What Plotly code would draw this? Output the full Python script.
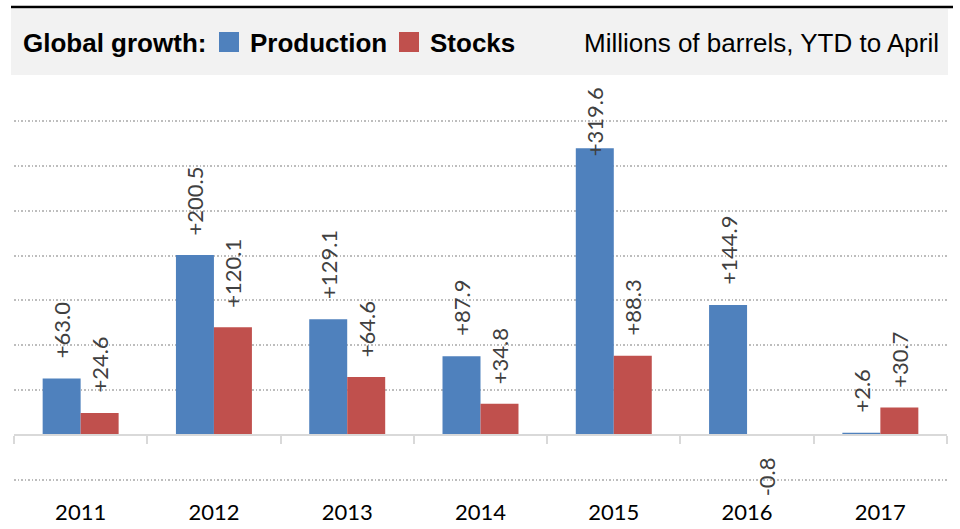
import plotly.graph_objects as go

years = ["2011", "2012", "2013", "2014", "2015", "2016", "2017"]
production = [63.0, 200.5, 129.1, 87.9, 319.6, 144.9, 2.6]
stocks = [24.6, 120.1, 64.6, 34.8, 88.3, -0.8, 30.7]
series_names = ["Production", "Stocks"]
title_text = "Global growth:"
unit_text = "Millions of barrels, YTD to April"

BLUE = "#4f81bd"
RED = "#c0504d"
W, H = 960, 529
L, R, T, B = 14, 13, 76, 32
YMIN, YMAX = -69, 400
BARGAP = 0.43
pw, ph = W - L - R, H - T - B
px_per_unit = ph / (YMAX - YMIN)
bar_w = (1 - BARGAP) / 2   # width of one bar in category units


def px_x(p):
    return (p - L) / pw


def px_y(p):
    return (H - B - p) / ph


def fmt(v):
    return f"{v:+.1f}"


label_font = dict(family="Lato, Carlito, sans-serif", size=22, color="#404040")
LABEL_GAP = 18          # px between bar end and its label
LABEL_LEN = 72          # approx px length of a rotated label
LABEL_TOP = 390         # labels are kept below this level (data units)

fig = go.Figure()
annotations = []
for si, (name, vals, col) in enumerate([(series_names[0], production, BLUE),
                                        (series_names[1], stocks, RED)]):
    fig.add_trace(go.Bar(
        x=years, y=vals, name=name, marker=dict(color=col, line=dict(width=0)),
        showlegend=False, cliponaxis=False,
    ))
    off = (si - 0.5) * bar_w
    for i, v in enumerate(vals):
        a = dict(x=i + off, xref="x", yref="y", text=fmt(v), textangle=-90,
                 showarrow=False, font=label_font, xanchor="center")
        if v < 0:
            a.update(y=v, yanchor="top", yshift=-LABEL_GAP - 2)
        elif v * px_per_unit + LABEL_GAP + LABEL_LEN > LABEL_TOP * px_per_unit:
            a.update(y=LABEL_TOP, yanchor="top")
        else:
            a.update(y=v, yanchor="bottom", yshift=LABEL_GAP)
        annotations.append(a)

# helper trace for the zero-level category axis (boundary ticks)
fig.add_trace(go.Scatter(x=years, y=[None] * len(years), xaxis="x2", yaxis="y",
                         mode="markers", showlegend=False, hoverinfo="skip"))

zero_frac = (0 - YMIN) / (YMAX - YMIN)

fig.update_layout(
    width=W, height=H,
    margin=dict(l=L, r=R, t=T, b=B, autoexpand=False),
    paper_bgcolor="white", plot_bgcolor="white",
    barmode="group", bargap=BARGAP, bargroupgap=0,
    xaxis=dict(type="category", range=[-0.5, 6.5], showline=False, ticks="",
               showgrid=False, zeroline=False, automargin=False,
               tickfont=dict(family="Lato, Carlito, sans-serif", size=22, color="black"),
               ticklabelstandoff=0),
    xaxis2=dict(type="category", overlaying="x", anchor="free", position=zero_frac,
                side="bottom", range=[-0.5, 6.5], categoryarray=years, automargin=False,
                showline=True, linecolor="#d9d9d9", linewidth=1.5,
                ticks="outside", tickson="boundaries", ticklen=8, tickwidth=1.5,
                tickcolor="#d9d9d9", showticklabels=False, showgrid=False, zeroline=False),
    yaxis=dict(range=[YMIN, YMAX], dtick=50, tick0=0, showticklabels=False,
               showgrid=True, gridcolor="#bdbdbd", griddash="1.5px,2px", gridwidth=1.5,
               zeroline=False, showline=False, ticks="", automargin=False),
    font=dict(family="Liberation Sans, Arial, sans-serif"),
)

shapes = [
    dict(type="rect", xref="paper", yref="paper", x0=px_x(11), x1=px_x(948),
         y0=px_y(75), y1=px_y(9), fillcolor="#f2f2f2", line=dict(width=0), layer="below"),
    dict(type="line", xref="paper", yref="paper", x0=px_x(11), x1=px_x(953),
         y0=px_y(7), y1=px_y(7), line=dict(color="black", width=2.5)),
    dict(type="rect", xref="paper", yref="paper", x0=px_x(219), x1=px_x(239),
         y0=px_y(52), y1=px_y(32), fillcolor=BLUE, line=dict(width=0)),
    dict(type="rect", xref="paper", yref="paper", x0=px_x(399), x1=px_x(419),
         y0=px_y(52), y1=px_y(32), fillcolor=RED, line=dict(width=0)),
]
hdr = dict(family="Liberation Sans, Arial, sans-serif", size=26, color="black")
header = [
    dict(text=f"<b>{title_text}</b>", x=px_x(21), y=px_y(43), xanchor="left", yanchor="middle"),
    dict(text=f"<b>{series_names[0]}</b>", x=px_x(248), y=px_y(43), xanchor="left", yanchor="middle"),
    dict(text=f"<b>{series_names[1]}</b>", x=px_x(428), y=px_y(43), xanchor="left", yanchor="middle"),
    dict(text=unit_text, x=px_x(941), y=px_y(43), xanchor="right", yanchor="middle"),
]
for a in header:
    a.update(xref="paper", yref="paper", showarrow=False, font=hdr)

fig.update_layout(shapes=shapes, annotations=annotations + header)
fig.write_html("out.html")
